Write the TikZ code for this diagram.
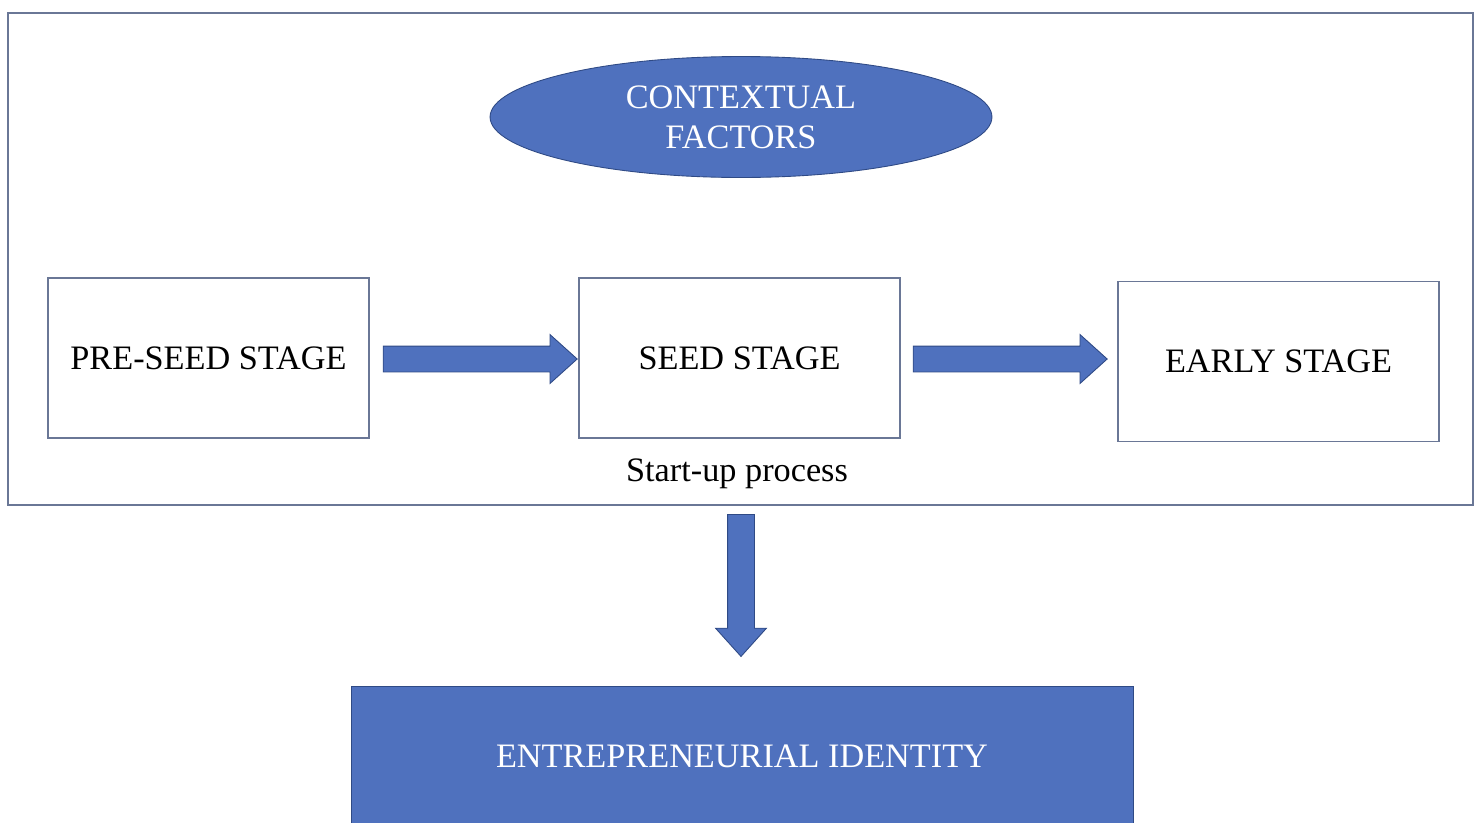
\documentclass[tikz,border=0pt]{standalone}
\usepackage{fontspec}
\setmainfont{Liberation Serif}
\usetikzlibrary{shapes.geometric,shapes.arrows}

\definecolor{idblue}{HTML}{4F71BE}
\definecolor{idedge}{HTML}{2F4A85}
\definecolor{framegray}{HTML}{6A7796}

\tikzset{
  stagebox/.style={draw=framegray, line width=0.9pt, minimum width=6.42cm,
    minimum height=3.2cm, inner sep=0pt, font=\fontsize{19.5}{23}\selectfont},
  bluearrow/.style={single arrow, fill=idblue, draw=idedge, line width=0.5pt,
    inner xsep=0pt, inner ysep=0.25cm, minimum width=0.96cm,
    single arrow head extend=0.23cm, single arrow tip angle=84},
}

\begin{document}
\begin{tikzpicture}[x=0.02cm,y=-0.02cm]

\useasboundingbox (0,0) rectangle (1479,822);
\clip (0,0) rectangle (1479,822);

% outer frame
\draw[framegray, line width=1.2pt] (8,13) rectangle (1473,505);

\node[ellipse, fill=idblue, draw=idedge, line width=0.5pt, inner sep=0pt,
  minimum width=10.04cm, minimum height=2.42cm, text=white, align=center,
  font=\fontsize{19.5}{22.7}\selectfont] (ctx) at (741,117) {CONTEXTUAL\\FACTORS};

\node[stagebox] (pre) at (208.5,358) {PRE-SEED STAGE};
\node[stagebox] (seed) at (739.5,358) {SEED STAGE};
\node[stagebox] (early) at (1278.5,361.5) {EARLY STAGE};

\node[font=\fontsize{19.5}{23}\selectfont] (proc) at (737,474) {Start-up process};

% block arrows
\node[bluearrow, minimum height=3.88cm] (a1) at (473,359) {};
\node[bluearrow, minimum height=3.88cm] (a2) at (1003,359) {};
\node[bluearrow, minimum height=2.84cm, minimum width=1.0cm,
  inner xsep=0.26cm, inner ysep=0pt,
  single arrow head extend=0.24cm, shape border rotate=270] (a3) at (741,578) {};

\node[fill=idblue, draw=idedge, line width=0.5pt, minimum width=15.64cm,
  minimum height=2.8cm, inner sep=0pt, text=white,
  font=\fontsize{19.5}{23}\selectfont] (ident) at (742,756) {ENTREPRENEURIAL IDENTITY};

\end{tikzpicture}
\end{document}
